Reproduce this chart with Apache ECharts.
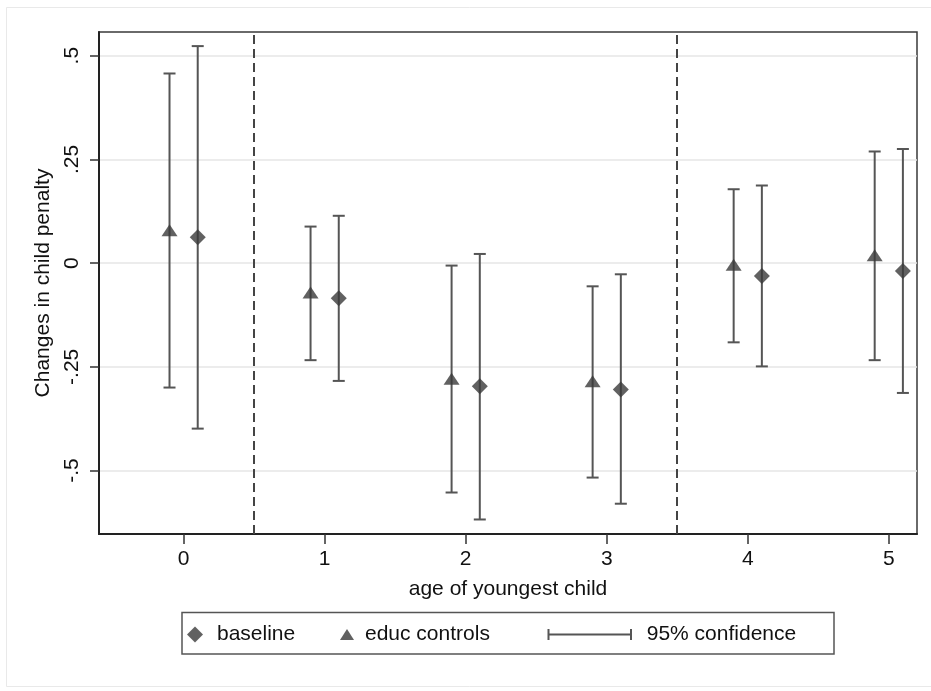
<!DOCTYPE html>
<html><head><meta charset="utf-8">
<script src="https://cdn.jsdelivr.net/npm/echarts@6/dist/echarts.min.js"></script>
<style>html,body{margin:0;padding:0;background:#fff}#c{width:931px;height:691px}</style>
</head><body><div id="c"></div>
<script>
// ---- data ----
const ages = [0, 1, 2, 3, 4, 5];
const baseline   = [0.062, -0.085, -0.297, -0.305, -0.031, -0.019];
const baselineLo = [-0.399, -0.284, -0.618, -0.580, -0.249, -0.313];
const baselineHi = [0.523, 0.114, 0.022, -0.027, 0.187, 0.275];
const educ   = [0.079, -0.071, -0.279, -0.285, -0.004, 0.019];
const educLo = [-0.300, -0.234, -0.553, -0.517, -0.191, -0.234];
const educHi = [0.457, 0.088, -0.006, -0.056, 0.178, 0.269];
const xTickValues = [0, 1, 2, 3, 4, 5];
const yTickValues = [-0.5, -0.25, 0, 0.25, 0.5];
const yTickLabels = ['-.5', '-.25', '0', '.25', '.5'];
const dividers = [0.5, 3.5];
const dodge = 0.1;

const FONT = '"Liberation Sans", Arial, sans-serif';
const FS = 21;
const MARK = '#3a3a3a';
const CI = '#555555';

const ciData = [];
ages.forEach((a, i) => {
  ciData.push([a - dodge, educLo[i], educHi[i]]);
  ciData.push([a + dodge, baselineLo[i], baselineHi[i]]);
});

const chart = echarts.init(document.getElementById('c'), null, {renderer: 'canvas'});
const legendText = (pad) => ({fontFamily: FONT, fontSize: FS, color: '#111', padding: [0, 0, 0, pad]});

chart.setOption({
  backgroundColor: '#ffffff',
  animation: false,
  grid: {left: 99, right: 14, top: 32, bottom: 157, show: true,
         borderColor: '#3a3a3a', borderWidth: 1.5, backgroundColor: 'transparent'},
  xAxis: {
    type: 'value', min: -0.6, max: 5.2,
    name: 'age of youngest child', nameLocation: 'middle', nameGap: 45,
    nameTextStyle: {fontFamily: FONT, fontSize: FS, color: '#111'},
    axisLine: {show: true, onZero: false, lineStyle: {color: '#222', width: 2}},
    axisTick: {show: true, length: 10, customValues: xTickValues, lineStyle: {color: '#333', width: 1.5}},
    axisLabel: {customValues: xTickValues, margin: 15, fontFamily: FONT, fontSize: FS, color: '#111'},
    splitLine: {show: false}
  },
  yAxis: {
    type: 'value', min: -0.653, max: 0.557,
    name: 'Changes in child penalty', nameLocation: 'middle', nameGap: 44, nameRotate: 90,
    nameTextStyle: {fontFamily: FONT, fontSize: FS, color: '#111'},
    axisLine: {show: true, onZero: false, lineStyle: {color: '#222', width: 2}},
    axisTick: {show: true, length: 9, customValues: yTickValues, lineStyle: {color: '#333', width: 1.5}},
    axisLabel: {customValues: yTickValues, rotate: 90, margin: 16, fontFamily: FONT, fontSize: FS, color: '#111',
      formatter: v => { const i = yTickValues.findIndex(t => Math.abs(t - v) < 1e-9); return i >= 0 ? yTickLabels[i] : ''; }},
    splitLine: {show: true, lineStyle: {color: '#e6e6e6', width: 1.5}}
  },
  legend: [
    {data: [{name: 'baseline', icon: 'diamond'}], selectedMode: false, left: 187, top: 624, padding: 0,
     itemWidth: 16, itemHeight: 16, textStyle: legendText(9)},
    {data: [{name: 'educ controls', icon: 'triangle'}], selectedMode: false, left: 340, top: 624, padding: 0,
     itemWidth: 14, itemHeight: 11, textStyle: legendText(6)},
    {data: [{name: '95% confidence', icon: 'path://M0,0L0,12M0,6L90,6M90,0L90,12',
             itemStyle: {color: 'none', borderColor: CI, borderWidth: 2}}],
     selectedMode: false, left: 546, top: 624, padding: 0,
     itemWidth: 90, itemHeight: 11, textStyle: legendText(7)}
  ],
  graphic: [
    {type: 'rect', silent: true, z: -10, shape: {x: 6.5, y: 7.5, width: 935, height: 679},
     style: {fill: 'none', stroke: '#e9e9e9', lineWidth: 1}},
    {type: 'rect', silent: true, shape: {x: 182, y: 612.5, width: 652, height: 41.5},
     style: {fill: 'none', stroke: '#555', lineWidth: 1.5}}
  ],
  series: [
    {
      type: 'custom', name: '95% confidence', data: ciData, encode: {x: 0, y: [1, 2]}, z: 2,
      itemStyle: {color: CI},
      renderItem: (params, api) => {
        const x = api.value(0), lo = api.value(1), hi = api.value(2);
        const p1 = api.coord([x, lo]), p2 = api.coord([x, hi]);
        const c = 6, st = {stroke: CI, lineWidth: 2};
        return {type: 'group', children: [
          {type: 'line', shape: {x1: p1[0], y1: p1[1], x2: p2[0], y2: p2[1]}, style: st},
          {type: 'line', shape: {x1: p1[0] - c, y1: p1[1], x2: p1[0] + c, y2: p1[1]}, style: st},
          {type: 'line', shape: {x1: p2[0] - c, y1: p2[1], x2: p2[0] + c, y2: p2[1]}, style: st}
        ]};
      },
      markLine: {symbol: 'none', silent: true, label: {show: false},
        lineStyle: {color: '#444', width: 2, type: [9, 5]},
        data: dividers.map(v => ({xAxis: v}))}
    },
    {type: 'scatter', name: 'educ controls', symbol: 'triangle', symbolSize: [16, 12], z: 3,
     itemStyle: {color: MARK}, data: ages.map((a, i) => [a - dodge, educ[i]])},
    {type: 'scatter', name: 'baseline', symbol: 'diamond', symbolSize: [16, 16], z: 3,
     itemStyle: {color: MARK}, data: ages.map((a, i) => [a + dodge, baseline[i]])}
  ]
});
</script></body></html>
